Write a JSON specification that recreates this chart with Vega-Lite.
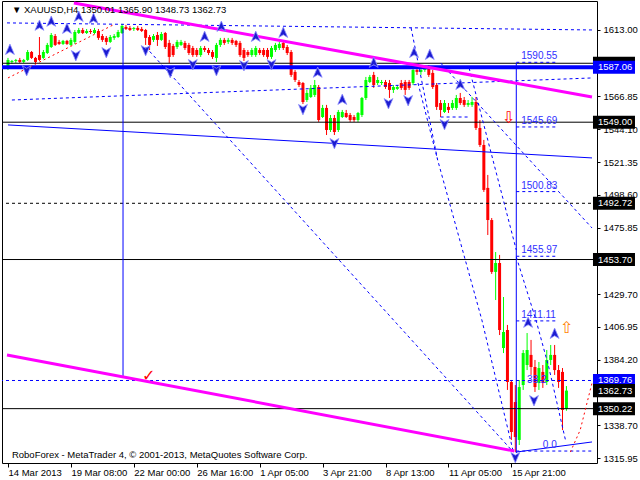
{
  "$schema": "https://vega.github.io/schema/vega-lite/v6.json",
  "width": 595,
  "height": 462,
  "autosize": {"type": "none"},
  "padding": {"left": 2, "top": 1, "right": 43, "bottom": 17},
  "background": "white",
  "config": {
    "view": {"stroke": "black", "strokeWidth": 1},
    "text": {"font": "Liberation Sans"},
    "font": "Liberation Sans",
    "axis": {"grid": false, "domain": false}
  },
  "datasets": {
    "candles": [
      {"i":0,"o":1586.6,"h":1593.6,"l":1585.2,"c":1592.2},
      {"i":1,"o":1590.8,"h":1592.2,"l":1589.4,"c":1591.5},
      {"i":2,"o":1591.5,"h":1592.9,"l":1590.1,"c":1592.2},
      {"i":3,"o":1592.2,"h":1593.6,"l":1590.1,"c":1590.8},
      {"i":4,"o":1590.8,"h":1592.9,"l":1590.1,"c":1592.2},
      {"i":5,"o":1592.2,"h":1599.1,"l":1591.5,"c":1597.7},
      {"i":6,"o":1597.7,"h":1598.4,"l":1592.9,"c":1593.6},
      {"i":7,"o":1593.6,"h":1594.3,"l":1589.4,"c":1590.8},
      {"i":8,"o":1595.6,"h":1608.1,"l":1591.5,"c":1592.2},
      {"i":9,"o":1593.6,"h":1599.1,"l":1592.9,"c":1597.7},
      {"i":10,"o":1597.0,"h":1604.0,"l":1596.3,"c":1602.6},
      {"i":11,"o":1601.2,"h":1610.9,"l":1600.5,"c":1609.5},
      {"i":12,"o":1608.8,"h":1610.2,"l":1601.9,"c":1602.6},
      {"i":13,"o":1604.7,"h":1606.1,"l":1602.6,"c":1603.3},
      {"i":14,"o":1603.3,"h":1606.1,"l":1602.6,"c":1605.4},
      {"i":15,"o":1605.4,"h":1606.1,"l":1602.6,"c":1603.3},
      {"i":16,"o":1602.6,"h":1607.5,"l":1601.9,"c":1606.1},
      {"i":17,"o":1604.7,"h":1613.0,"l":1603.3,"c":1611.6},
      {"i":18,"o":1610.9,"h":1614.4,"l":1610.2,"c":1613.0},
      {"i":19,"o":1613.0,"h":1614.4,"l":1610.2,"c":1610.9},
      {"i":20,"o":1610.9,"h":1613.7,"l":1610.2,"c":1612.3},
      {"i":21,"o":1612.3,"h":1613.7,"l":1610.2,"c":1611.6},
      {"i":22,"o":1610.9,"h":1614.4,"l":1610.2,"c":1613.0},
      {"i":23,"o":1612.3,"h":1613.7,"l":1606.1,"c":1607.5},
      {"i":24,"o":1608.8,"h":1610.2,"l":1604.7,"c":1606.1},
      {"i":25,"o":1607.5,"h":1608.8,"l":1602.6,"c":1604.7},
      {"i":26,"o":1604.7,"h":1609.5,"l":1604.0,"c":1608.1},
      {"i":27,"o":1607.5,"h":1610.2,"l":1606.1,"c":1608.8},
      {"i":28,"o":1608.1,"h":1613.0,"l":1607.5,"c":1611.6},
      {"i":29,"o":1610.9,"h":1617.2,"l":1610.2,"c":1615.8},
      {"i":30,"o":1615.1,"h":1616.5,"l":1613.0,"c":1613.7},
      {"i":31,"o":1614.4,"h":1615.8,"l":1612.3,"c":1613.0},
      {"i":32,"o":1613.7,"h":1615.1,"l":1612.3,"c":1614.4},
      {"i":33,"o":1614.4,"h":1615.8,"l":1612.3,"c":1613.0},
      {"i":34,"o":1613.7,"h":1615.1,"l":1611.6,"c":1612.3},
      {"i":35,"o":1613.0,"h":1613.7,"l":1602.6,"c":1607.5},
      {"i":36,"o":1608.1,"h":1609.5,"l":1599.1,"c":1602.6},
      {"i":37,"o":1606.1,"h":1610.2,"l":1604.7,"c":1608.8},
      {"i":38,"o":1609.5,"h":1611.6,"l":1601.9,"c":1606.1},
      {"i":39,"o":1606.1,"h":1611.6,"l":1605.4,"c":1610.2},
      {"i":40,"o":1610.9,"h":1611.6,"l":1599.8,"c":1601.2},
      {"i":41,"o":1604.0,"h":1606.1,"l":1590.1,"c":1594.3},
      {"i":42,"o":1601.9,"h":1603.3,"l":1594.3,"c":1595.6},
      {"i":43,"o":1601.2,"h":1606.1,"l":1599.8,"c":1604.7},
      {"i":44,"o":1602.6,"h":1606.1,"l":1601.9,"c":1604.7},
      {"i":45,"o":1604.0,"h":1605.4,"l":1599.1,"c":1600.5},
      {"i":46,"o":1602.6,"h":1604.0,"l":1595.6,"c":1597.0},
      {"i":47,"o":1600.5,"h":1601.9,"l":1594.3,"c":1595.6},
      {"i":48,"o":1599.1,"h":1600.5,"l":1594.3,"c":1595.6},
      {"i":49,"o":1595.6,"h":1601.9,"l":1594.3,"c":1600.5},
      {"i":50,"o":1600.5,"h":1601.9,"l":1597.7,"c":1599.1},
      {"i":51,"o":1599.1,"h":1600.5,"l":1595.6,"c":1597.0},
      {"i":52,"o":1597.7,"h":1599.1,"l":1592.9,"c":1594.3},
      {"i":53,"o":1593.6,"h":1604.0,"l":1590.8,"c":1602.6},
      {"i":54,"o":1602.6,"h":1607.5,"l":1601.2,"c":1606.1},
      {"i":55,"o":1606.1,"h":1607.5,"l":1602.6,"c":1604.0},
      {"i":56,"o":1604.7,"h":1607.5,"l":1603.3,"c":1606.1},
      {"i":57,"o":1606.1,"h":1607.5,"l":1602.6,"c":1604.0},
      {"i":58,"o":1605.4,"h":1606.1,"l":1601.2,"c":1602.6},
      {"i":59,"o":1604.0,"h":1605.4,"l":1594.3,"c":1595.6},
      {"i":60,"o":1599.1,"h":1600.5,"l":1591.5,"c":1593.6},
      {"i":61,"o":1597.7,"h":1599.1,"l":1594.3,"c":1595.6},
      {"i":62,"o":1595.6,"h":1600.5,"l":1594.3,"c":1599.1},
      {"i":63,"o":1595.6,"h":1601.9,"l":1594.3,"c":1600.5},
      {"i":64,"o":1599.1,"h":1600.5,"l":1595.6,"c":1597.0},
      {"i":65,"o":1599.1,"h":1600.5,"l":1594.3,"c":1595.6},
      {"i":66,"o":1599.1,"h":1600.5,"l":1592.9,"c":1594.3},
      {"i":67,"o":1594.3,"h":1601.9,"l":1592.9,"c":1600.5},
      {"i":68,"o":1599.1,"h":1604.0,"l":1597.7,"c":1602.6},
      {"i":69,"o":1600.5,"h":1604.7,"l":1599.1,"c":1603.3},
      {"i":70,"o":1604.0,"h":1605.4,"l":1599.1,"c":1600.5},
      {"i":71,"o":1601.2,"h":1602.6,"l":1595.6,"c":1597.0},
      {"i":72,"o":1597.7,"h":1599.1,"l":1580.4,"c":1581.8},
      {"i":73,"o":1583.9,"h":1585.2,"l":1576.9,"c":1578.3},
      {"i":74,"o":1576.9,"h":1578.3,"l":1573.4,"c":1574.8},
      {"i":75,"o":1576.2,"h":1576.9,"l":1561.6,"c":1563.0},
      {"i":76,"o":1564.4,"h":1571.4,"l":1563.0,"c":1569.3},
      {"i":77,"o":1566.5,"h":1574.8,"l":1565.8,"c":1572.8},
      {"i":78,"o":1567.9,"h":1578.3,"l":1566.5,"c":1574.8},
      {"i":79,"o":1573.4,"h":1574.8,"l":1549.2,"c":1550.5},
      {"i":80,"o":1552.6,"h":1561.0,"l":1551.9,"c":1558.9},
      {"i":81,"o":1558.9,"h":1561.0,"l":1540.1,"c":1543.6},
      {"i":82,"o":1543.6,"h":1554.0,"l":1542.2,"c":1551.9},
      {"i":83,"o":1551.9,"h":1554.0,"l":1540.1,"c":1542.2},
      {"i":84,"o":1543.6,"h":1557.5,"l":1542.2,"c":1556.1},
      {"i":85,"o":1552.6,"h":1557.5,"l":1551.9,"c":1556.1},
      {"i":86,"o":1555.4,"h":1557.5,"l":1551.9,"c":1552.6},
      {"i":87,"o":1554.0,"h":1555.4,"l":1549.2,"c":1550.5},
      {"i":88,"o":1552.6,"h":1554.0,"l":1549.2,"c":1550.5},
      {"i":89,"o":1550.5,"h":1556.1,"l":1549.2,"c":1555.4},
      {"i":90,"o":1554.0,"h":1566.5,"l":1552.6,"c":1565.8},
      {"i":91,"o":1565.8,"h":1580.4,"l":1564.4,"c":1578.3},
      {"i":92,"o":1576.9,"h":1581.8,"l":1576.2,"c":1580.4},
      {"i":93,"o":1581.8,"h":1583.9,"l":1572.8,"c":1574.8},
      {"i":94,"o":1576.2,"h":1580.4,"l":1574.8,"c":1578.3},
      {"i":95,"o":1576.2,"h":1578.3,"l":1574.8,"c":1576.9},
      {"i":96,"o":1576.9,"h":1578.3,"l":1572.1,"c":1573.4},
      {"i":97,"o":1576.2,"h":1578.3,"l":1565.8,"c":1571.4},
      {"i":98,"o":1571.4,"h":1574.8,"l":1569.3,"c":1573.4},
      {"i":99,"o":1572.1,"h":1574.8,"l":1571.4,"c":1573.4},
      {"i":100,"o":1576.2,"h":1578.3,"l":1571.4,"c":1572.8},
      {"i":101,"o":1576.9,"h":1578.3,"l":1567.9,"c":1571.4},
      {"i":102,"o":1576.9,"h":1578.3,"l":1571.4,"c":1572.8},
      {"i":103,"o":1576.2,"h":1590.1,"l":1574.8,"c":1585.2},
      {"i":104,"o":1585.2,"h":1588.7,"l":1581.8,"c":1583.9},
      {"i":105,"o":1583.9,"h":1586.6,"l":1581.8,"c":1585.2},
      {"i":106,"o":1585.2,"h":1588.7,"l":1583.9,"c":1586.6},
      {"i":107,"o":1586.6,"h":1588.7,"l":1580.4,"c":1581.8},
      {"i":108,"o":1583.2,"h":1585.2,"l":1572.1,"c":1573.4},
      {"i":109,"o":1574.8,"h":1576.2,"l":1557.5,"c":1559.6},
      {"i":110,"o":1562.3,"h":1564.4,"l":1552.6,"c":1557.5},
      {"i":111,"o":1556.1,"h":1564.4,"l":1555.4,"c":1562.3},
      {"i":112,"o":1559.6,"h":1562.3,"l":1555.4,"c":1557.5},
      {"i":113,"o":1558.9,"h":1564.4,"l":1557.5,"c":1562.3},
      {"i":114,"o":1558.9,"h":1567.9,"l":1557.5,"c":1565.8},
      {"i":115,"o":1565.8,"h":1569.3,"l":1561.0,"c":1562.3},
      {"i":116,"o":1564.4,"h":1566.5,"l":1559.6,"c":1561.0},
      {"i":117,"o":1561.0,"h":1564.4,"l":1559.6,"c":1562.3},
      {"i":118,"o":1561.0,"h":1566.5,"l":1559.6,"c":1563.0},
      {"i":119,"o":1563.0,"h":1566.5,"l":1543.6,"c":1545.0},
      {"i":120,"o":1545.0,"h":1550.5,"l":1531.8,"c":1533.2},
      {"i":121,"o":1533.2,"h":1536.7,"l":1500.6,"c":1502.0},
      {"i":122,"o":1503.4,"h":1512.4,"l":1470.7,"c":1481.1},
      {"i":123,"o":1481.1,"h":1482.5,"l":1443.7,"c":1445.1},
      {"i":124,"o":1445.1,"h":1458.9,"l":1425.6,"c":1451.3},
      {"i":125,"o":1451.3,"h":1456.9,"l":1401.3,"c":1404.8},
      {"i":126,"o":1392.3,"h":1427.7,"l":1388.8,"c":1403.4},
      {"i":127,"o":1404.8,"h":1408.3,"l":1363.2,"c":1368.7},
      {"i":128,"o":1368.7,"h":1370.1,"l":1328.5,"c":1334.0},
      {"i":129,"o":1354.8,"h":1366.6,"l":1320.1,"c":1330.5},
      {"i":130,"o":1328.5,"h":1370.1,"l":1325.0,"c":1365.2},
      {"i":131,"o":1366.6,"h":1390.9,"l":1363.2,"c":1388.8},
      {"i":132,"o":1380.5,"h":1402.7,"l":1377.0,"c":1390.9},
      {"i":133,"o":1387.5,"h":1397.9,"l":1373.6,"c":1379.1},
      {"i":134,"o":1379.1,"h":1384.0,"l":1361.8,"c":1365.2},
      {"i":135,"o":1368.0,"h":1382.6,"l":1363.2,"c":1378.4},
      {"i":136,"o":1375.7,"h":1380.5,"l":1364.6,"c":1368.0},
      {"i":137,"o":1368.7,"h":1390.9,"l":1366.6,"c":1384.0},
      {"i":138,"o":1384.0,"h":1394.4,"l":1380.5,"c":1387.5},
      {"i":139,"o":1387.5,"h":1394.4,"l":1373.6,"c":1377.0},
      {"i":140,"o":1377.0,"h":1380.5,"l":1364.6,"c":1368.7},
      {"i":141,"o":1375.7,"h":1378.4,"l":1335.4,"c":1349.3},
      {"i":142,"o":1350.01,"h":1365.90,"l":1348.73,"c":1362.73}
    ],
    "levels": [
      {"p":1589.9,"kind":"solid"},
      {"p":1549.00,"kind":"solid"},
      {"p":1453.70,"kind":"solid"},
      {"p":1350.22,"kind":"solid"},
      {"p":1492.72,"kind":"dash"},
      {"p":1369.76,"kind":"bluedash"},
      {"p":1587.06,"kind":"thick"}
    ],
    "segs": [
      {"id":"pink1","kind":"pink","ord":0,"i":16.75,"p":1631.7},
      {"id":"pink1","kind":"pink","ord":1,"i":148.5,"p":1566.5},
      {"id":"pink2","kind":"pink","ord":0,"i":-0.25,"p":1387.5},
      {"id":"pink2","kind":"pink","ord":1,"i":128.75,"p":1320.8},
      {"id":"b1","kind":"blue","ord":0,"i":0,"p":1547.1},
      {"id":"b1","kind":"blue","ord":1,"i":148.5,"p":1524.2},
      {"id":"bv1","kind":"blue","ord":0,"i":29.25,"p":1614.4},
      {"id":"bv1","kind":"blue","ord":1,"i":29.25,"p":1371.5},
      {"id":"bv2","kind":"blue","ord":0,"i":129.25,"p":1590.1},
      {"id":"bv2","kind":"blue","ord":1,"i":129.25,"p":1319.4},
      {"id":"b0","kind":"blue","ord":0,"i":129.25,"p":1320.1},
      {"id":"b0","kind":"blue","ord":1,"i":148.5,"p":1327.1},
      {"id":"dtop","kind":"dash","ord":0,"i":-0.25,"p":1617.9},
      {"id":"dtop","kind":"dash","ord":1,"i":148.5,"p":1613.0},
      {"id":"dlow","kind":"dash","ord":0,"i":1,"p":1564.4},
      {"id":"dlow","kind":"dash","ord":1,"i":148.5,"p":1579.7},
      {"id":"da","kind":"dash","ord":0,"i":35,"p":1601.2},
      {"id":"da","kind":"dash","ord":1,"i":128.5,"p":1320.1},
      {"id":"db","kind":"dash","ord":0,"i":102.5,"p":1614.4},
      {"id":"db","kind":"dash","ord":1,"i":109.25,"p":1522.8},
      {"id":"db","kind":"dash","ord":2,"i":120.5,"p":1411.7},
      {"id":"db","kind":"dash","ord":3,"i":128.5,"p":1320.1},
      {"id":"dc","kind":"dash","ord":0,"i":110,"p":1590.1},
      {"id":"dc","kind":"dash","ord":1,"i":148.5,"p":1475.6},
      {"id":"dd","kind":"dash","ord":0,"i":117.25,"p":1586.6},
      {"id":"dd","kind":"dash","ord":1,"i":129.25,"p":1460.3},
      {"id":"de","kind":"dash","ord":0,"i":129.25,"p":1455.5},
      {"id":"de","kind":"dash","ord":1,"i":134.25,"p":1411.7},
      {"id":"de","kind":"dash","ord":2,"i":137.5,"p":1379.1},
      {"id":"de","kind":"dash","ord":3,"i":141.75,"p":1328.5},
      {"id":"df","kind":"dash","ord":0,"i":104.25,"p":1576.2},
      {"id":"df","kind":"dash","ord":1,"i":109.25,"p":1522.8},
      {"id":"dg","kind":"dash","ord":0,"i":110,"p":1552.6},
      {"id":"dg","kind":"dash","ord":1,"i":117.5,"p":1552.6},
      {"id":"dh","kind":"dash","ord":0,"i":129.25,"p":1320.8},
      {"id":"dh","kind":"dash","ord":1,"i":148.5,"p":1320.8},
      {"id":"r1","kind":"red","ord":0,"i":0,"p":1579.7},
      {"id":"r1","kind":"red","ord":1,"i":26.75,"p":1616.5},
      {"id":"r2","kind":"red","ord":0,"i":143,"p":1320.1},
      {"id":"r2","kind":"red","ord":1,"i":145.5,"p":1335.4},
      {"id":"r2","kind":"red","ord":2,"i":148.5,"p":1368.0}
    ],
    "fib": [
      {"p":1590.55,"label":"1590.55","i0":129.25,"i1":139.25,"i":130.5},
      {"p":1545.69,"label":"1545.69","i0":129.25,"i1":139.25,"i":130.5},
      {"p":1500.83,"label":"1500.83","i0":129.25,"i1":139.25,"i":130.5},
      {"p":1455.97,"label":"1455.97","i0":129.25,"i1":139.25,"i":130.5},
      {"p":1411.11,"label":"1411.11","i0":129.25,"i1":139.25,"i":130.5},
      {"p":1320.8,"label":"0.0","i0":129.25,"i1":129.25,"i":136}
    ],
    "arrows": [
      {"i":0.5,"p":1599.1,"dir":"up"},
      {"i":8,"p":1615.8,"dir":"up"},
      {"i":11,"p":1618.6,"dir":"up"},
      {"i":15,"p":1613.7,"dir":"up"},
      {"i":18,"p":1622.0,"dir":"up"},
      {"i":21.75,"p":1620.6,"dir":"up"},
      {"i":50,"p":1608.1,"dir":"up"},
      {"i":54.25,"p":1615.1,"dir":"up"},
      {"i":63,"p":1608.1,"dir":"up"},
      {"i":70,"p":1610.9,"dir":"up"},
      {"i":78.75,"p":1583.2,"dir":"up"},
      {"i":85,"p":1564.4,"dir":"up"},
      {"i":93,"p":1590.1,"dir":"up"},
      {"i":103.25,"p":1597.0,"dir":"up"},
      {"i":107.25,"p":1595.6,"dir":"up"},
      {"i":115,"p":1574.8,"dir":"up"},
      {"i":132.25,"p":1409.7,"dir":"up"},
      {"i":139,"p":1402.0,"dir":"up"},
      {"i":4.75,"p":1585.2,"dir":"down"},
      {"i":17.25,"p":1595.6,"dir":"down"},
      {"i":25,"p":1597.7,"dir":"down"},
      {"i":35,"p":1599.1,"dir":"down"},
      {"i":41.25,"p":1583.9,"dir":"down"},
      {"i":47,"p":1589.4,"dir":"down"},
      {"i":53,"p":1585.2,"dir":"down"},
      {"i":60,"p":1588.7,"dir":"down"},
      {"i":67,"p":1589.4,"dir":"down"},
      {"i":75,"p":1558.2,"dir":"down"},
      {"i":83,"p":1534.6,"dir":"down"},
      {"i":96.75,"p":1562.3,"dir":"down"},
      {"i":101.75,"p":1564.4,"dir":"down"},
      {"i":111,"p":1547.8,"dir":"down"},
      {"i":133.75,"p":1356.2,"dir":"down"},
      {"i":129,"p":1316.7,"dir":"down"}
    ],
    "icons": [
      {"i":35.75,"p":1372.9,"sym":"✓","kind":"red"},
      {"i":127.25,"p":1551.9,"sym":"⇩","kind":"red"},
      {"i":142,"p":1406.2,"sym":"⇧","kind":"orange"}
    ],
    "notes": [
      {"i":1,"p":1626.9,"t":"▼  XAUUSD,H4  1350.01 1365.90 1348.73 1362.73"},
      {"i":1,"p":1318.05,"t":"RoboForex - MetaTrader 4, © 2001-2013, MetaQuotes Software Corp."}
    ],
    "boxes": [
      {"p":1589.9,"label":"","kind":"black"},
      {"p":1587.06,"label":"1587.06","kind":"blue"},
      {"p":1549.00,"label":"1549.00","kind":"black"},
      {"p":1492.72,"label":"1492.72","kind":"black"},
      {"p":1453.70,"label":"1453.70","kind":"black"},
      {"p":1369.76,"label":"1369.76","kind":"blue"},
      {"p":1362.73,"label":"1362.73","kind":"black"},
      {"p":1350.22,"label":"1350.22","kind":"black"}
    ]
  },
  "layer": [
    {
      "data": {"name": "candles"},
      "mark": {"type": "rule", "strokeWidth": 1},
      "encoding": {
        "x": {"field": "i", "type": "quantitative", "scale": {"domain": [-0.25, 148.5], "nice": false, "zero": false},
          "axis": {"orient": "bottom", "values": [0, 16, 32, 48, 64, 80, 96, 112, 128],
            "labelExpr": "['14 Mar 2013','19 Mar 08:00','22 Mar 00:00','26 Mar 16:00','1 Apr 05:00','3 Apr 21:00','8 Apr 13:00','11 Apr 05:00','15 Apr 21:00'][round(datum.value/16)]",
            "title": null, "grid": false, "domain": false, "ticks": true, "tickSize": 4, "tickColor": "black",
            "labelAlign": "left", "labelBaseline": "top", "labelPadding": 0, "labelDx": 2, "labelFontSize": 9.5,
            "labelColor": "black", "labelFont": "Liberation Sans", "labelOverlap": false, "labelBound": false, "labelFlush": false}},
        "y": {"field": "l", "type": "quantitative", "scale": {"domain": [1312.5, 1633.1], "nice": false, "zero": false},
          "axis": {"orient": "right", "values": [1315.95, 1338.7, 1384.2, 1406.95, 1429.7, 1475.85, 1498.6, 1521.35, 1544.1, 1566.85, 1613],
            "format": ".2f", "title": null, "grid": false, "domain": false, "ticks": true, "tickSize": 3, "tickColor": "black",
            "labelPadding": 3, "labelColor": "black", "labelFontSize": 9.5, "labelFont": "Liberation Sans",
            "labelOverlap": false, "labelBound": false, "labelFlush": false}},
        "y2": {"field": "h"},
        "color": {"condition": {"test": "datum.c >= datum.o", "value": "#00ff00"}, "value": "#ff0000"}
      }
    },
    {
      "data": {"name": "candles"},
      "mark": {"type": "bar", "width": 3},
      "encoding": {
        "x": {"field": "i", "type": "quantitative"},
        "y": {"field": "o", "type": "quantitative"},
        "y2": {"field": "c"},
        "color": {"condition": {"test": "datum.c >= datum.o", "value": "#00ff00"}, "value": "#ff0000"}
      }
    },
    {
      "data": {"name": "levels"},
      "transform": [{"filter": "datum.kind == 'solid'"}],
      "mark": {"type": "rule", "color": "black", "strokeWidth": 1},
      "encoding": {"y": {"field": "p", "type": "quantitative"}}
    },
    {
      "data": {"name": "levels"},
      "transform": [{"filter": "datum.kind == 'dash'"}],
      "mark": {"type": "rule", "color": "black", "strokeWidth": 1, "strokeDash": [3, 3]},
      "encoding": {"y": {"field": "p", "type": "quantitative"}}
    },
    {
      "data": {"name": "levels"},
      "transform": [{"filter": "datum.kind == 'bluedash'"}],
      "mark": {"type": "rule", "color": "#0000ff", "strokeWidth": 1, "strokeDash": [3, 3]},
      "encoding": {"y": {"field": "p", "type": "quantitative"}}
    },
    {
      "data": {"name": "levels"},
      "transform": [{"filter": "datum.kind == 'thick'"}],
      "mark": {"type": "rule", "color": "#0000ff", "strokeWidth": 4},
      "encoding": {"y": {"field": "p", "type": "quantitative"}}
    },
    {
      "data": {"name": "segs"},
      "transform": [{"filter": "datum.kind == 'dash'"}],
      "mark": {"type": "line", "color": "#0000ff", "strokeWidth": 1, "strokeDash": [3, 3], "clip": true},
      "encoding": {
        "x": {"field": "i", "type": "quantitative"},
        "y": {"field": "p", "type": "quantitative"},
        "detail": {"field": "id"},
        "order": {"field": "ord"}
      }
    },
    {
      "data": {"name": "segs"},
      "transform": [{"filter": "datum.kind == 'red'"}],
      "mark": {"type": "line", "color": "#ff0000", "strokeWidth": 1, "strokeDash": [2, 3], "clip": true},
      "encoding": {
        "x": {"field": "i", "type": "quantitative"},
        "y": {"field": "p", "type": "quantitative"},
        "detail": {"field": "id"},
        "order": {"field": "ord"}
      }
    },
    {
      "data": {"name": "segs"},
      "transform": [{"filter": "datum.kind == 'blue'"}],
      "mark": {"type": "line", "color": "#0000ff", "strokeWidth": 1, "clip": true},
      "encoding": {
        "x": {"field": "i", "type": "quantitative"},
        "y": {"field": "p", "type": "quantitative"},
        "detail": {"field": "id"},
        "order": {"field": "ord"}
      }
    },
    {
      "data": {"name": "segs"},
      "transform": [{"filter": "datum.kind == 'pink'"}],
      "mark": {"type": "line", "color": "#ff00ff", "strokeWidth": 3, "clip": true},
      "encoding": {
        "x": {"field": "i", "type": "quantitative"},
        "y": {"field": "p", "type": "quantitative"},
        "detail": {"field": "id"},
        "order": {"field": "ord"}
      }
    },
    {
      "data": {"name": "fib"},
      "mark": {"type": "rule", "color": "#0000ff", "strokeWidth": 1, "strokeDash": [3, 3]},
      "encoding": {
        "x": {"field": "i0", "type": "quantitative"},
        "x2": {"field": "i1"},
        "y": {"field": "p", "type": "quantitative"}
      }
    },
    {
      "data": {"name": "fib"},
      "mark": {"type": "text", "color": "#3030ff", "fontSize": 10, "align": "left", "baseline": "middle", "dy": -6, "font": "Liberation Sans"},
      "encoding": {
        "x": {"field": "i", "type": "quantitative"},
        "y": {"field": "p", "type": "quantitative"},
        "text": {"field": "label"}
      }
    },
    {
      "data": {"values": [{"i": 132, "p": 1369.76, "label": "38.2"}]},
      "mark": {"type": "text", "color": "#3030ff", "fontSize": 10, "align": "left", "baseline": "middle", "font": "Liberation Sans"},
      "encoding": {
        "x": {"field": "i", "type": "quantitative"},
        "y": {"field": "p", "type": "quantitative"},
        "text": {"field": "label"}
      }
    },
    {
      "data": {"name": "arrows"},
      "mark": {"type": "point", "filled": true, "size": 140, "color": "#1c1cd0", "stroke": "#8c8cff", "strokeWidth": 0.8, "opacity": 1},
      "encoding": {
        "x": {"field": "i", "type": "quantitative"},
        "y": {"field": "p", "type": "quantitative"},
        "shape": {"field": "dir", "type": "nominal", "legend": null,
          "scale": {"domain": ["up", "down"], "range": ["M0,-1L0.75,0.75L0,0.3L-0.75,0.75Z", "M0,1L0.75,-0.75L0,-0.3L-0.75,-0.75Z"]}}
      }
    },
    {
      "data": {"name": "icons"},
      "mark": {"type": "text", "fontSize": 16, "align": "center", "baseline": "middle", "font": "DejaVu Sans"},
      "encoding": {
        "x": {"field": "i", "type": "quantitative"},
        "y": {"field": "p", "type": "quantitative"},
        "text": {"field": "sym"},
        "color": {"condition": {"test": "datum.kind == 'orange'", "value": "#ff7f00"}, "value": "#ff0000"}
      }
    },
    {
      "data": {"name": "notes"},
      "mark": {"type": "text", "fontSize": 9.5, "align": "left", "baseline": "middle", "color": "black", "font": "Liberation Sans"},
      "encoding": {
        "x": {"field": "i", "type": "quantitative"},
        "y": {"field": "p", "type": "quantitative"},
        "text": {"field": "t"}
      }
    },
    {
      "data": {"name": "boxes"},
      "mark": {"type": "point", "filled": true, "size": 1764, "opacity": 1, "strokeWidth": 0,
        "shape": "M0,-0.31L2,-0.31L2,0.31L0,0.31Z"},
      "encoding": {
        "x": {"datum": 148.75, "type": "quantitative"},
        "y": {"field": "p", "type": "quantitative"},
        "color": {"condition": {"test": "datum.kind == 'blue'", "value": "#0000ff"}, "value": "#000000"}
      }
    },
    {
      "data": {"name": "boxes"},
      "mark": {"type": "text", "fontSize": 9.5, "align": "left", "baseline": "middle", "color": "white", "font": "Liberation Sans"},
      "encoding": {
        "x": {"datum": 150, "type": "quantitative"},
        "y": {"field": "p", "type": "quantitative"},
        "text": {"field": "label"}
      }
    }
  ]
}
